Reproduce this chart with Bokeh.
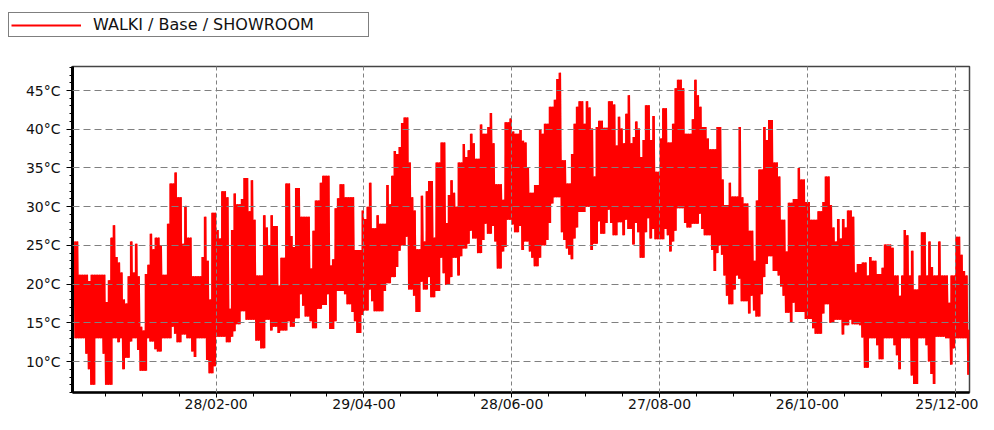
from bokeh.plotting import figure
from bokeh.layouts import column, row
from bokeh.models import Range1d, FixedTicker, PrintfTickFormatter, Legend, LegendItem
from bokeh.embed import file_html
from bokeh.resources import INLINE

series_name = "WALKI / Base / SHOWROOM"

# daily maximum temperature (°C), day 0 = 01/01
daily_max = [
    25.5, 25.5, 21.2, 21.2, 21.2, 21.2, 20.4, 21.2, 21.2, 21.2, 21.2, 21.2, 21.2, 17.7, 20.5, 26.0,
    27.6, 23.5, 22.8, 21.5, 18.0, 17.5, 21.0, 25.5, 21.5, 25.2, 21.0, 14.5, 14.0, 21.3, 22.5, 26.5,
    24.5, 26.0, 26.0, 25.0, 21.2, 21.2, 27.8, 33.0, 33.0, 34.4, 31.2, 31.2, 25.2, 30.1,
    26, 26, 21, 21, 21, 21, 23.5, 28.7, 23, 18, 29.2, 29.2, 27, 25.9, 32, 32, 31.2, 16.8, 27, 31.7,
    30.3, 30.3, 31, 33.7, 33.7, 29.4, 33.4, 28.3, 21.1, 21.1, 21.1, 28.9, 27.3, 25, 28.9, 27.5, 27.5,
    19.8, 23.4, 23.4, 33, 33, 26.2, 24.8, 32.4, 32.4,
    28.7, 28.7, 28.7, 28.7, 22, 26.9, 30.8, 30.8, 33.1, 34, 34, 34, 22.4, 23.2, 29.8, 31.1, 32.9, 32.9,
    31.2, 31.2, 31.2, 31.2, 24.4, 24.4, 24.4, 29.5, 28.4, 30, 33.1, 27.2, 27.2, 28.9, 27.8, 27.8, 27.8,
    32.8, 30.3, 34, 37.2, 36.8, 37.7, 40.8, 41.5, 41.5, 35.7, 31.2,
    29.5, 24.5, 24.5, 31.4, 25.5, 32, 33.3, 33.3, 26, 35.7, 35.7, 38.3, 38.3, 27.9, 31.5, 33.4, 31.8,
    30, 35.7, 35.7, 38.1, 36.4, 37.3, 39.4, 38.2, 36.2, 36.2, 40.6, 39.4, 39.4, 40.3, 42.1, 38.2, 32.9,
    32.9, 32.9, 30.9, 40.9, 40.9, 41.4, 39.7, 39.4, 39.4, 39.9, 38.5,
    38.3, 35, 31.8, 31.8, 32.8, 32.8, 40, 39.4, 40.7, 40.7, 42.9, 42.9, 43.8, 46.5, 47.3, 36, 36, 33,
    33, 36.8, 40.7, 42.9, 43.6, 43.6, 40.7, 43.6, 42.8, 40.1, 33.9, 40.3, 41.1, 41.1, 40.2, 40.2, 43.6,
    43.6, 43.2, 37.9, 41.6, 40.1, 38.2, 42, 44.4, 38.2, 39,
    41, 40.1, 36.4, 38.6, 43.1, 43.1, 38.6, 41.7, 34.5, 34.5, 38.8, 42.7, 42.7, 38.3, 38.3, 40.7, 45.3,
    46.4, 46.4, 45.3, 39.4, 39.4, 39.4, 41.3, 46.4, 44.4, 42.9, 40.3, 40.3, 38.8, 37.4, 37.4, 37.4,
    40.3, 40.3, 33.5, 30.2, 30.2, 33.1, 31.3, 31.3, 31.3, 40.3, 31.2, 30.4, 30.4,
    26.9, 26.9, 23, 30.8, 34.8, 34.8, 40.3, 38.6, 41.2, 41.2, 35.7, 35.7, 33.9, 28.3, 28.3, 24.2, 30.5,
    30.5, 31, 31, 35, 33.5, 33.5, 30.6, 30.6, 28.3, 28.3, 28.3, 29.4, 29.4, 30.6, 33.9, 33.9, 30.2,
    27.3, 25.5, 28.4, 25.9, 28.4, 27.3, 29.5, 29.5, 28.7, 21.5, 22.6,
    22.6, 22.8, 22.8, 21.1, 23.5, 23, 23, 21.3, 21.3, 22.1, 25.1, 25.1, 25.1, 24.7, 21.1, 21.1, 18.5,
    21.1, 27, 26.3, 21.1, 24.3, 19.3, 19.3, 21.1, 26.7, 26.7, 21.1, 25.5, 22.2, 21.1, 21.1, 25.5, 21.1,
    21.1, 21.1, 17.6, 21.1, 21.1, 26.1, 26.1, 23.8, 21.7, 21.1, 14.1,
]

# daily minimum temperature (°C)
daily_min = [
    13, 13, 13, 13, 13, 11, 9, 7, 7, 13, 13, 13, 11, 7, 7, 7, 13, 13, 12.5, 13, 9, 10.5, 10.5, 12.6,
    13, 13, 11.5, 8.8, 8.8, 8.8, 13, 12.6, 12.6, 11.6, 11.3, 11.3, 13, 13, 13, 13, 14.5, 13.6, 12.5,
    12.5, 13.5, 13.5,
    13, 13, 11.3, 10.6, 13, 13, 13, 13, 10.2, 8.5, 8.5, 9.4, 13.2, 13.2, 13.2, 13.2, 12.5, 12.5, 13.2,
    13.9, 14.8, 14.8, 16.5, 16.5, 15.4, 15.4, 15.4, 15.4, 12.7, 12.7, 11.7, 11.7, 15.4, 15.4, 14, 14.5,
    14.5, 13.7, 14, 14, 14, 15.2, 14.5, 14.5, 15.6, 15.6,
    18.7, 17.2, 15.8, 15.8, 15.2, 14.3, 14.3, 16.8, 16.8, 17.3, 17.3, 18.7, 14.2, 14.2, 15.2, 19.1,
    19.1, 19.1, 18.7, 17.4, 17.4, 16.4, 15.2, 13.7, 13.7, 16, 16.6, 16.6, 19.3, 17.8, 16.5, 16.5, 16.5,
    16.5, 19.1, 20.1, 20.1, 20.9, 20.9, 22.2, 24.3, 25, 25, 26.1, 19.3, 19.3,
    18.5, 16.4, 16.4, 20.3, 19.3, 19.3, 20.9, 18.3, 18.3, 19.1, 19.1, 23.4, 21.4, 19.9, 19.9, 20.9,
    23.4, 23.4, 21.1, 23.6, 24.6, 24.6, 25.2, 26.9, 25.9, 25.9, 24, 24, 25.7, 27.8, 26.5, 26.5, 27.5,
    25.5, 22, 22, 24.2, 24.8, 28.3, 28.3, 27.7, 26.7, 26.7, 27.5, 24.4,
    25.5, 25.5, 24.2, 23.4, 22.3, 22.3, 23.4, 25, 25, 25.7, 27.9, 30.4, 31.2, 31.2, 31.2, 26.7, 25.7,
    24.6, 23.8, 23.2, 25.9, 27.3, 29.3, 29.3, 29.3, 30, 30, 24.4, 25.2, 25.2, 28.1, 26.5, 26.5, 27.9,
    29.6, 27.9, 26.3, 26.3, 28, 28, 26.3, 28.3, 27.1, 27.1, 25.1,
    27.9, 26.7, 23.4, 23.4, 26.7, 28.5, 25.9, 27.1, 25.8, 25.8, 25.8, 25.8, 27.1, 26.3, 24.2, 25.5,
    26.9, 29.8, 29.8, 29.8, 27.9, 27.3, 27.3, 27.8, 27.8, 27.8, 29.1, 27.1, 26.3, 26.3, 26.3, 24.4,
    21.7, 24, 25, 23.8, 21.1, 18.5, 17.4, 17.4, 19.3, 21.1, 20.7, 17.8, 17.8, 17.8,
    16.2, 18.5, 16.6, 15.8, 15.8, 18.7, 20.9, 22.6, 23.6, 23.6, 21.7, 21.7, 21.1, 19.7, 18.5, 16.3,
    16.3, 15, 17.6, 16.4, 16.4, 16.4, 16.4, 15.5, 15.5, 15.5, 14.3, 13.6, 13.6, 13.6, 16.2, 17.4, 17.4,
    15, 15, 15.4, 15.4, 15.4, 13.5, 14.7, 14.7, 15.4, 14.8, 14.8, 14.8,
    14.7, 13.1, 9.2, 9.2, 13, 13, 13, 12.1, 10.3, 10.3, 13, 13, 13, 13, 12.1, 10.8, 9, 13, 13, 13, 13,
    8.2, 7.1, 7.1, 13, 13, 13, 12.1, 10, 8.4, 7.1, 13.2, 13.2, 13.2, 13.2, 13, 13, 9.6, 11.7, 13, 13,
    13, 13, 13, 8.3,
]

tick_days = [58, 118, 178, 238, 298, 358]
tick_labels = ["28/02-00", "29/04-00", "28/06-00", "27/08-00", "26/10-00", "25/12-00"]
y_ticks = [10, 15, 20, 25, 30, 35, 40, 45]

days = list(range(len(daily_max)))

# one zig-zag per day: night minimum, then afternoon maximum
xs, ys = [], []
for i, (lo, hi) in enumerate(zip(daily_min, daily_max)):
    xs.extend([i + 0.2, i + 0.7])
    ys.extend([lo, hi])

FONT = "DejaVu Sans"
RED = "#ff0000"

# ---------- legend strip (a separate figure above the chart) ----------
leg = figure(width=978, height=64, output_backend="svg", toolbar_location=None,
             x_axis_type=None, y_axis_type=None, min_border=0,
             x_range=Range1d(0, 1), y_range=Range1d(-2, -1),
             background_fill_color="white", border_fill_color="white")
leg.outline_line_color = None
leg.grid.visible = False
# same series, out of this strip's view: it only provides the legend swatch
r_leg = leg.line(xs, ys, line_color=RED, line_width=2)
legend = Legend(items=[LegendItem(label=series_name, renderers=[r_leg])],
                location=(8, 27), margin=0, padding=2,
                glyph_width=70, glyph_height=16, label_standoff=12, label_width=273,
                label_text_font=FONT, label_text_font_size="16px", label_text_color="#111111",
                border_line_color="black", border_line_width=1.5,
                background_fill_color="white", background_fill_alpha=1.0)
leg.add_layout(legend)

# ---------- main chart ----------
p = figure(width=978, height=350, output_backend="svg", toolbar_location=None,
           x_range=Range1d(-0.3, 363.8), y_range=Range1d(6.0, 48.1),
           min_border_left=72, min_border_right=9, min_border_top=2, min_border_bottom=10,
           background_fill_color="white", border_fill_color="white")
p.outline_line_color = "#444444"
p.outline_line_width = 1.5

# daily range band (blocky, as the hourly trace looks at this scale) plus the daily swing
p.varea_step(x=[d + 0.5 for d in days], y1=daily_min, y2=daily_max, step_mode="center",
             fill_color=RED, fill_alpha=1.0)
p.line(xs, ys, line_color=RED, line_width=1.6)

p.xaxis.ticker = FixedTicker(ticks=tick_days, minor_ticks=list(range(13, 364, 15)))
p.xaxis.major_label_overrides = {d: t for d, t in zip(tick_days, tick_labels)}
p.yaxis.ticker = FixedTicker(ticks=y_ticks, minor_ticks=list(range(6, 49)))
p.yaxis.formatter = PrintfTickFormatter(format="%d°C")

for ax in (p.xaxis[0], p.yaxis[0]):
    ax.axis_line_color = "black"
    ax.major_tick_line_color = "black"
    ax.minor_tick_line_color = "black"
    ax.major_tick_in = 0
    ax.minor_tick_in = 0
    ax.major_label_text_font = FONT
    ax.major_label_text_font_size = "14px"
    ax.major_label_text_color = "#111111"

p.yaxis.axis_line_width = 3
p.yaxis.major_tick_out = 6
p.yaxis.minor_tick_out = 3
p.yaxis.major_label_standoff = 6

p.xaxis.axis_line_width = 2.5
p.xaxis.major_tick_out = 5
p.xaxis.minor_tick_out = 4
p.xaxis.major_label_standoff = -2

# grid drawn over the data, as in the original
p.ygrid.grid_line_color = "#808080"
p.ygrid.grid_line_dash = "7 4"
p.ygrid.grid_line_width = 1
p.xgrid.grid_line_color = "#808080"
p.xgrid.grid_line_dash = "4 3"
p.xgrid.grid_line_width = 1
p.xgrid.level = "annotation"
p.ygrid.level = "annotation"

page = column(row(leg), p, spacing=0)
open("out.html", "w").write(file_html(page, INLINE))
